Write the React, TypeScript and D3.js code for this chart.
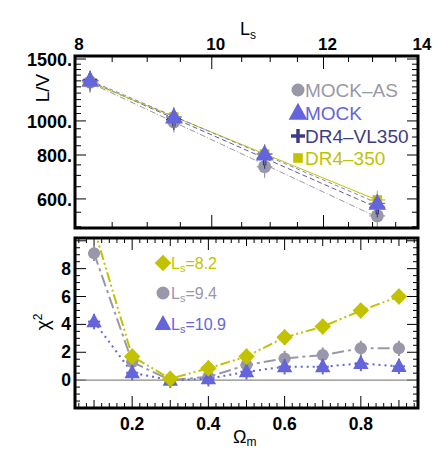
import React from 'react'
import * as d3 from 'd3'

// top panel : L/V vs Ls (log-log)
const lsValues = [8.2, 9.4, 10.9, 13.1]
const lsErr = [0.11, 0.12, 0.14, 0.17]
const mockAS = [1290, 993, 741, 537]
const mock = [1304, 1026, 805, 583]
const dr4VL350 = [1304, 1009, 783, 568]
const dr4350 = [1290, 1026, 805, 596]
const lvErr = [85, 66, 52, 37]
const topXTicks = [8, 10, 12, 14]
const topYTicks = [600, 800, 1000, 1500]

// bottom panel : chi2 vs Omega_m
const omegaM = [0.1, 0.2, 0.3, 0.4, 0.5, 0.6, 0.7, 0.8, 0.9]
const chiLs82 = [10.9, 1.7, 0.1, 0.85, 1.7, 3.07, 3.84, 4.99, 6.0]
const chiLs94 = [9.1, 1.3, 0.0, 0.24, 1.08, 1.56, 1.8, 2.28, 2.28]
const chiLs109 = [4.2, 0.53, 0.0, 0.1, 0.6, 0.96, 0.96, 1.2, 0.99]
const chiErr = [0.55, 0.55, 0.55, 0.55, 0.55, 0.55, 0.55, 0.55, 0.55]
const omegaErr = 0.016
const botXTicks = [0.2, 0.4, 0.6, 0.8]
const botYTicks = [0, 2, 4, 6, 8]

const YELLOW = '#c2c200'
const GRAY = '#9898a8'
const BLUE = '#6464dc'
const NAVY = '#3c3c82'

const FONT = '"Liberation Sans", Arial, Helvetica, sans-serif'

function Marker({ type, x, y, color, size }: { type: string; x: number; y: number; color: string; size: number }) {
  if (type === 'circle') return <circle cx={x} cy={y} r={size * 0.5} fill={color} />
  if (type === 'triangle') {
    const s = size
    const path = `M${x},${y - s * 0.6}L${x + s * 0.55},${y + s * 0.4}L${x - s * 0.55},${y + s * 0.4}Z`
    return <path d={path} fill={color} />
  }
  if (type === 'diamond') {
    const s = size * 0.55
    return <path d={`M${x},${y - s}L${x + s},${y}L${x},${y + s}L${x - s},${y}Z`} fill={color} />
  }
  if (type === 'square') {
    const s = size * 0.8
    return <rect x={x - s / 2} y={y - s / 2} width={s} height={s} fill={color} />
  }
  // plus
  const s = size * 0.5
  return (
    <g stroke={color} strokeWidth={3.5}>
      <line x1={x - s} x2={x + s} y1={y} y2={y} />
      <line x1={x} x2={x} y1={y - s} y2={y + s} />
    </g>
  )
}

export default function App() {
  const W = 436
  const H = 459
  const left = 75
  const right = 418

  const tx = d3.scaleLog().domain([8, 14]).range([left, right])
  const ty = d3.scaleLog().domain([496, 1530]).range([228, 56])
  const bx = d3.scaleLinear().domain([0.05, 0.95]).range([left, right])
  const by = d3.scaleLinear().domain([-2, 10.2]).range([408, 238])

  // log-log fit of a series, drawn across the measured Ls span
  const fitLine = (vals: number[]) => {
    const lx = lsValues.map(Math.log)
    const ly = vals.map(Math.log)
    const mx = d3.mean(lx)!
    const my = d3.mean(ly)!
    const b = d3.sum(lx, (v, i) => (v - mx) * (ly[i] - my)) / d3.sum(lx, (v) => (v - mx) ** 2)
    const a = my - b * mx
    const ends = [lsValues[0], lsValues[lsValues.length - 1]]
    const line = d3.line<number>().x((l) => tx(l)).y((l) => ty(Math.exp(a + b * Math.log(l))))
    return line(ends)!
  }

  const topSeries = [
    { name: 'MOCK-AS', vals: mockAS, color: GRAY, type: 'circle', size: 13, dash: '6,2,1,2', lineColor: GRAY },
    { name: 'DR4-VL350', vals: dr4VL350, color: NAVY, type: 'plus', size: 14, dash: '5,3', lineColor: '#5a5aa8' },
    { name: 'DR4-350', vals: dr4350, color: YELLOW, type: 'square', size: 12, dash: '', lineColor: YELLOW },
    { name: 'MOCK', vals: mock, color: BLUE, type: 'triangle', size: 16, dash: '4,3', lineColor: '#8080d0' },
  ]

  const botSeries = [
    { vals: chiLs94, color: GRAY, type: 'circle', size: 12, dash: '12,4,3,4' },
    { vals: chiLs109, color: BLUE, type: 'triangle', size: 14, dash: '2,4' },
    { vals: chiLs82, color: YELLOW, type: 'diamond', size: 15, dash: '10,3,2,3,2,3' },
  ]

  // tick generation
  const topXMinor = d3.range(8.5, 14, 0.5).filter((v) => !topXTicks.includes(v))
  const topYMinor = d3.range(500, 1500, 50).filter((v) => !topYTicks.includes(v))
  const botXMinor = d3.range(0.06, 0.95, 0.02).map((v) => +v.toFixed(2))
  const botYMinor = d3.range(-2, 10.2, 0.5)

  const chiLine = (vals: number[]) =>
    d3.line<number>().x((o) => bx(o)).y((o, i) => by(vals[i]))(omegaM)!

  return (
    <svg width={W} height={H} style={{ position: 'absolute', left: 0, top: 0 }} fontFamily={FONT}>
      <rect width={W} height={H} fill="white" />
      <defs>
        <clipPath id="clipTop">
          <rect x={left} y={56} width={right - left} height={172} />
        </clipPath>
        <clipPath id="clipBot">
          <rect x={left} y={238} width={right - left} height={170} />
        </clipPath>
      </defs>

      {/* ---------- TOP PANEL ---------- */}
      <g stroke="black" strokeWidth={1}>
        {topXTicks.map((v) => (
          <g key={'tx' + v}>
            <line x1={tx(v)} x2={tx(v)} y1={56} y2={69} />
            <line x1={tx(v)} x2={tx(v)} y1={228} y2={215} />
          </g>
        ))}
        {topXMinor.map((v) => (
          <g key={'txm' + v}>
            <line x1={tx(v)} x2={tx(v)} y1={56} y2={62} />
            <line x1={tx(v)} x2={tx(v)} y1={228} y2={222} />
          </g>
        ))}
        {topYTicks.map((v) => (
          <g key={'ty' + v}>
            <line x1={left} x2={left + 11} y1={ty(v)} y2={ty(v)} />
            <line x1={right} x2={right - 11} y1={ty(v)} y2={ty(v)} />
          </g>
        ))}
        {topYMinor.map((v) => (
          <g key={'tym' + v}>
            <line x1={left} x2={left + 6} y1={ty(v)} y2={ty(v)} />
            <line x1={right} x2={right - 6} y1={ty(v)} y2={ty(v)} />
          </g>
        ))}
      </g>

      <g clipPath="url(#clipTop)">
        {topSeries.map((s) => (
          <path key={'fit' + s.name} d={fitLine(s.vals)} fill="none" stroke={s.lineColor} strokeWidth={1} strokeDasharray={s.dash} />
        ))}
        {topSeries.map((s) => (
          <g key={'pts' + s.name}>
            {lsValues.map((l, i) => (
              <g key={i}>
                <g stroke={s.color} strokeWidth={1.2}>
                  <line x1={tx(l)} x2={tx(l)} y1={ty(s.vals[i] - lvErr[i])} y2={ty(s.vals[i] + lvErr[i])} />
                  <line x1={tx(l - lsErr[i])} x2={tx(l + lsErr[i])} y1={ty(s.vals[i])} y2={ty(s.vals[i])} />
                </g>
                <Marker type={s.type} x={tx(l)} y={ty(s.vals[i])} color={s.color} size={s.size} />
              </g>
            ))}
          </g>
        ))}
      </g>

      <rect x={left} y={56} width={right - left} height={172} fill="none" stroke="black" strokeWidth={3} />

      {/* top axis labels */}
      <g fontWeight="bold" fontSize={17} fill="black">
        {topXTicks.map((v) => (
          <text key={'txl' + v} x={tx(v) + 4} y={50} textAnchor="middle">{v}</text>
        ))}
        {topYTicks.map((v) => (
          <text key={'tyl' + v} x={72} y={ty(v) + 7} textAnchor="end" fontSize={18}>{v + '.'}</text>
        ))}
      </g>
      <text x={240} y={35} fontSize={18}>
        L<tspan fontSize={12} dy={4}>s</tspan>
      </text>
      <text transform="translate(49,88) rotate(-90)" fontSize={19} textAnchor="middle">L/V</text>

      {/* top legend */}
      {[
        { label: 'MOCK–AS', color: GRAY, type: 'circle', size: 13 },
        { label: 'MOCK', color: BLUE, type: 'triangle', size: 17 },
        { label: 'DR4–VL350', color: NAVY, type: 'plus', size: 14 },
        { label: 'DR4–350', color: YELLOW, type: 'square', size: 12 },
      ].map((d, i) => {
        const yy = [90, 113, 136, 158][i]
        return (
          <g key={d.label}>
            <Marker type={d.type} x={298} y={yy} color={d.color} size={d.size} />
            <text x={305} y={yy + 7} fontSize={19} fill={d.color}>{d.label}</text>
          </g>
        )
      })}

      {/* ---------- BOTTOM PANEL ---------- */}
      <g stroke="black" strokeWidth={1}>
        {botXMinor.map((v) => {
          const major = botXTicks.some((t) => Math.abs(t - v) < 1e-6)
          const mid = !major && Math.abs(v * 10 - Math.round(v * 10)) < 1e-6
          const len = major ? 12 : mid ? 8 : 5
          return (
            <g key={'bx' + v}>
              <line x1={bx(v)} x2={bx(v)} y1={408} y2={408 - len} />
              <line x1={bx(v)} x2={bx(v)} y1={238} y2={238 + len} />
            </g>
          )
        })}
        {botYMinor.map((v) => {
          const major = Number.isInteger(v) && v % 2 === 0
          const len = major ? 11 : 5
          return (
            <g key={'by' + v}>
              <line x1={left} x2={left + len} y1={by(v)} y2={by(v)} />
              <line x1={right} x2={right - len} y1={by(v)} y2={by(v)} />
            </g>
          )
        })}
      </g>

      <line x1={left} x2={right} y1={by(0)} y2={by(0)} stroke="#888" strokeWidth={1.2} />

      <g clipPath="url(#clipBot)">
        {botSeries.map((s, k) => (
          <path key={'bl' + k} d={chiLine(s.vals)} fill="none" stroke={s.color} strokeWidth={2} strokeDasharray={s.dash} />
        ))}
        {botSeries.map((s, k) => (
          <g key={'bp' + k}>
            {omegaM.map((o, i) => (
              <g key={i}>
                <g stroke={s.color} strokeWidth={2}>
                  <line x1={bx(o)} x2={bx(o)} y1={by(s.vals[i] - chiErr[i])} y2={by(s.vals[i] + chiErr[i])} />
                  <line x1={bx(o - omegaErr)} x2={bx(o + omegaErr)} y1={by(s.vals[i])} y2={by(s.vals[i])} />
                </g>
                <Marker type={s.type} x={bx(o)} y={by(s.vals[i])} color={s.color} size={s.size} />
              </g>
            ))}
          </g>
        ))}
      </g>

      <rect x={left} y={238} width={right - left} height={170} fill="none" stroke="black" strokeWidth={3} />

      <g fontWeight="bold" fontSize={17.5} fill="black">
        {botXTicks.map((v) => (
          <text key={'bxl' + v} x={bx(v)} y={430} textAnchor="middle">{v.toFixed(1)}</text>
        ))}
        {botYTicks.map((v) => (
          <text key={'byl' + v} x={71} y={by(v) + 6} textAnchor="end">{v}</text>
        ))}
      </g>
      <text x={233} y={443} fontSize={18}>
        Ω<tspan fontSize={12} dy={3}>m</tspan>
      </text>
      <text transform="translate(49,322) rotate(-90)" fontSize={19} textAnchor="middle">
        χ<tspan fontSize={12} dy={-7}>2</tspan>
      </text>

      {/* bottom legend */}
      {[
        { label: '8.2', color: YELLOW, type: 'diamond', size: 15 },
        { label: '9.4', color: GRAY, type: 'circle', size: 13 },
        { label: '10.9', color: BLUE, type: 'triangle', size: 15 },
      ].map((d, i) => {
        const yy = [263, 293, 324][i]
        return (
          <g key={d.label} fill={d.color}>
            <Marker type={d.type} x={163} y={yy} color={d.color} size={d.size} />
            <text x={171} y={yy + 6} fontSize={16}>
              L<tspan fontSize={11} dy={3}>s</tspan>
              <tspan dy={-3}>{'=' + d.label}</tspan>
            </text>
          </g>
        )
      })}
    </svg>
  )
}
